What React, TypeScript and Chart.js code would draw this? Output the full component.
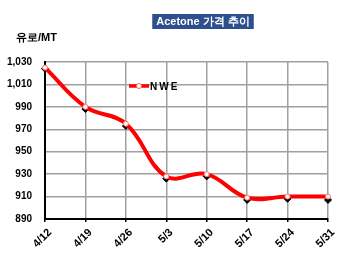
import React, { useEffect, useRef } from "react";
import { Chart, registerables } from "chart.js";

Chart.register(...registerables);

const categories = ["4/12", "4/19", "4/26", "5/3", "5/10", "5/17", "5/24", "5/31"];
const nweValues = [1025, 990, 975, 928, 930, 909, 910, 910];
const markerValues = [1024, 988, 973, 926, 928, 907, 908, 907];
const seriesName = "NWE";
const chartTitle = "Acetone 가격 추이";
const yUnit = "유로/MT";
const yMin = 890;
const yMax = 1030;
const yStep = 20;

const FONT = "Arial, 'Liberation Sans', sans-serif";

const decorPlugin = {
  id: "decor",
  afterDraw(chart: any) {
    const ctx = chart.ctx;
    const area = chart.chartArea;
    ctx.save();
    ctx.font = `bold 11px ${FONT}`;
    const tw = ctx.measureText(chartTitle).width;
    const cx = 203;
    const bw = tw + 8;
    ctx.fillStyle = "#2D4F8E";
    ctx.fillRect(cx - bw / 2, 14, bw, 15);
    ctx.fillStyle = "#ffffff";
    ctx.textAlign = "center";
    ctx.textBaseline = "middle";
    ctx.fillText(chartTitle, cx, 21.5);
    ctx.fillStyle = "#000";
    ctx.textAlign = "left";
    ctx.font = `bold 11px ${FONT}`;
    ctx.fillText(yUnit, 16, 38);
    const ly = area.top + 24;
    const lx = area.left + 84;
    ctx.strokeStyle = "#ff0000";
    ctx.lineWidth = 3.5;
    ctx.beginPath();
    ctx.moveTo(lx, ly);
    ctx.lineTo(lx + 20, ly);
    ctx.stroke();
    ctx.fillStyle = "#ffffff";
    ctx.strokeStyle = "#ff6060";
    ctx.lineWidth = 1;
    ctx.beginPath();
    ctx.arc(lx + 10, ly, 2.5, 0, Math.PI * 2);
    ctx.fill();
    ctx.stroke();
    ctx.fillStyle = "#000";
    ctx.font = `bold 10px ${FONT}`;
    (ctx as any).letterSpacing = "2px";
    ctx.fillText(seriesName, lx + 21, ly + 1);
    ctx.restore();
  },
};

export default function App() {
  const ref = useRef<HTMLCanvasElement>(null);
  useEffect(() => {
    document.body.style.margin = "0";
    const chart = new Chart(ref.current!, {
      type: "line",
      data: {
        labels: categories,
        datasets: [
          {
            label: seriesName,
            data: nweValues,
            borderColor: "#ff0000",
            borderWidth: 4,
            tension: 0.4,
            pointRadius: 2.5,
            pointBackgroundColor: "#ffffff",
            pointBorderColor: "#ff7070",
            pointBorderWidth: 1,
            order: 1,
          },
          {
            label: "markers",
            data: markerValues,
            showLine: false,
            pointStyle: "rectRot",
            pointRadius: 3.5,
            pointBackgroundColor: "#000000",
            pointBorderColor: "#000000",
            order: 2,
          },
        ],
      },
      plugins: [decorPlugin],
      options: {
        responsive: false,
        animation: false,
        layout: { padding: { left: 0, top: 62, right: 22, bottom: 0 } },
        plugins: { legend: { display: false }, title: { display: false }, tooltip: { enabled: false } },
        scales: {
          x: {
            offset: false,
            grid: { color: "#a0a0a0", lineWidth: 1.5, drawTicks: true, tickLength: 3, tickColor: "#000" },
            border: { color: "#000", width: 2 },
            ticks: {
              maxRotation: 45,
              minRotation: 45,
              padding: 4,
              labelOffset: 5,
              color: "#000",
              font: { family: FONT, size: 11, weight: "bold" },
            },
            afterFit(scale: any) {
              scale.height = 40;
            },
          },
          y: {
            min: yMin,
            max: yMax,
            grid: { color: "#a0a0a0", lineWidth: 1.5, drawTicks: false },
            border: { color: "#000", width: 2 },
            ticks: {
              stepSize: yStep,
              padding: 13,
              color: "#000",
              font: { family: FONT, size: 10, weight: "bold" },
              callback: (v: any) => Number(v).toLocaleString("en-US"),
            },
            afterFit(scale: any) {
              scale.width = 45;
            },
          },
        },
      },
    });
    return () => chart.destroy();
  }, []);
  return (
    <div style={{ position: "absolute", left: 0, top: 0, width: 350, height: 259, background: "#fff" }}>
      <canvas ref={ref} width={350} height={259} />
    </div>
  );
}
